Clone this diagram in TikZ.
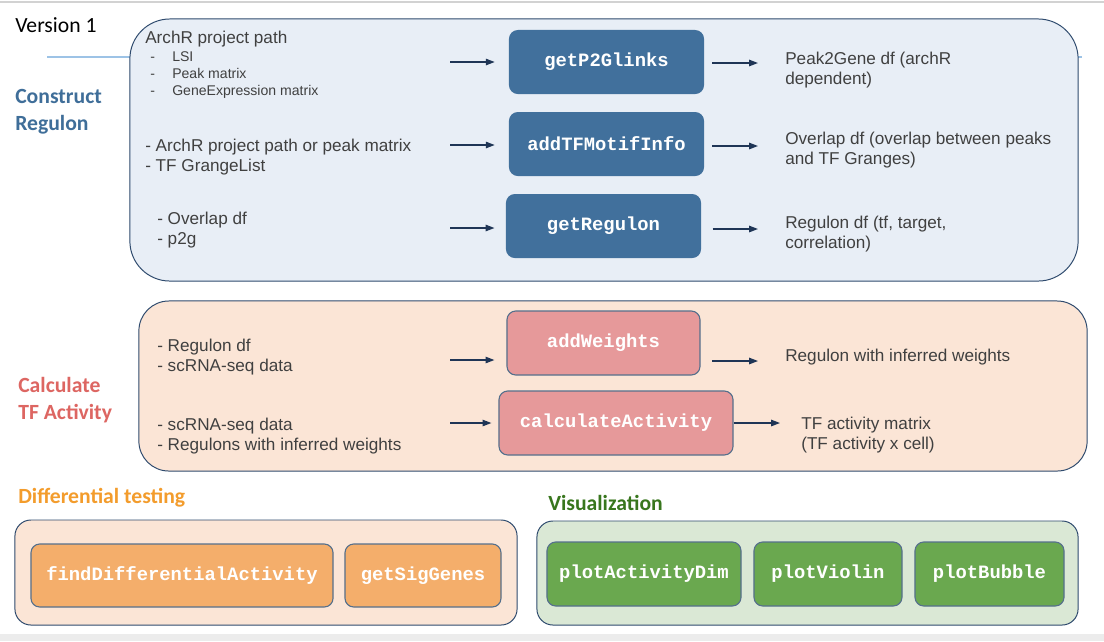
\documentclass[tikz,border=0pt]{standalone}
\usepackage{fontspec}
\setmainfont{Liberation Sans}
\newfontfamily\headfont{Carlito}
\newfontfamily\codefont{Liberation Mono}
\usepackage{xcolor}
\usetikzlibrary{arrows.meta, positioning, calc}

\definecolor{regfill}{HTML}{E8EEF6}
\definecolor{actfill}{HTML}{FBE5D6}
\definecolor{visfill}{HTML}{DAE8D5}
\definecolor{panelline}{HTML}{2F4B6E}
\definecolor{funcline}{HTML}{56708C}
\definecolor{funcblue}{HTML}{41709C}
\definecolor{funcpink}{HTML}{E6999A}
\definecolor{funcorange}{HTML}{F4AE6B}
\definecolor{funcgreen}{HTML}{6AA84F}
\definecolor{txtgray}{HTML}{404040}
\definecolor{arrownavy}{HTML}{1F3556}
\definecolor{headblue}{HTML}{3F6E99}
\definecolor{headred}{HTML}{DD6662}
\definecolor{headorange}{HTML}{F39C2C}
\definecolor{headgreen}{HTML}{38761D}
\definecolor{slideline}{HTML}{9DC3E6}

\begin{document}
\begin{tikzpicture}[
        x=0.025cm, y=-0.025cm,
        panel/.style={rectangle, draw=panelline, line width=0.7pt, inner sep=0pt},
        func/.style={rectangle, rounded corners=0.22cm, text=white, inner sep=0pt,
            minimum height=1.6cm, font=\codefont\bfseries\fontsize{13.4}{16}\selectfont},
        intext/.style={anchor=west, inner sep=0pt, align=left, text=txtgray,
            font=\fontsize{12.2}{14.2}\selectfont},
        smalltext/.style={intext, font=\fontsize{10}{12.1}\selectfont},
        heading/.style={anchor=west, inner sep=0pt, align=left,
            font=\headfont\bfseries\fontsize{15.4}{19.2}\selectfont},
        arrow/.style={line width=0.9pt, draw=arrownavy, -{Triangle[length=0.22cm, width=0.16cm]}}
    ]
        \useasboundingbox (0,0) rectangle (1104,641);
        \fill[white] (0,0) rectangle (1104,641);
        \draw[gray!35, line width=0.8pt] (0,2) -- (1104,2);
        \fill[gray!15] (0,634) rectangle (1104,641);
        \draw[slideline, line width=1pt] (47,57) -- (1082,57);

        % panels
        \node (regpanel) [panel, fill=regfill, rounded corners=1cm, minimum width=23.7cm, minimum height=6.55cm] at (604,150) {};
        \node (actpanel) [panel, fill=actfill, rounded corners=0.75cm, minimum width=23.7cm, minimum height=4.25cm] at (613,386) {};
        \node (diffpanel) [panel, fill=actfill, rounded corners=0.4cm, minimum width=12.55cm, minimum height=2.625cm] at (266,572.5) {};
        \node (vispanel) [panel, fill=visfill, rounded corners=0.4cm, minimum width=13.525cm, minimum height=2.6cm] at (807.5,573) {};

        % headings
        \node (version) [heading, font=\headfont\fontsize{15.4}{18}\selectfont] at (15,25) {Version 1};
        \node (constructhd) [heading, text=headblue] at (15,112) {Construct\\Regulon};
        \node (activityhd) [heading, text=headred] at (18,400) {Calculate\\TF Activity};
        \node (diffhd) [heading, text=headorange] at (18,498) {Differential testing};
        \node (vishd) [heading, text=headgreen] at (548,503) {Visualization};

        % construct regulon
        \node (p2g) [func, fill=funcblue, minimum width=4.875cm] at (606.5,62) {getP2Glinks};
        \node (motif) [func, fill=funcblue, minimum width=4.875cm] at (606.5,144) {addTFMotifInfo};
        \node (regulon) [func, fill=funcblue, minimum width=4.875cm] at (603.5,226) {getRegulon};

        \node (inp2g) [intext] at (145,39) {ArchR project path};
        \node (inp2glist) [smalltext] at (150,75) {\makebox[0.55cm][l]{-}LSI\\\makebox[0.55cm][l]{-}Peak matrix\\\makebox[0.55cm][l]{-}GeneExpression matrix};
        \node (inmotif) [intext] at (145,157) {- ArchR project path or peak matrix\\- TF GrangeList};
        \node (inregulon) [intext] at (157,230) {- Overlap df\\- p2g};
        \node (outp2g) [intext] at (785,70) {Peak2Gene df (archR\\dependent)};
        \node (outmotif) [intext] at (785,150) {Overlap df (overlap between peaks\\and TF Granges)};
        \node (outregulon) [intext] at (785,234) {Regulon df (tf, target,\\correlation)};

        \coordinate (a1) at (450,62);
        \coordinate (a2) at (450,145);
        \coordinate (a3) at (450,228);
        \draw [arrow, shorten >=0.35cm] (a1) -- (a1 -| p2g.west);
        \draw [arrow, shorten >=0.35cm] (a2) -- (a2 -| motif.west);
        \draw [arrow, shorten >=0.28cm] (a3) -- (a3 -| regulon.west);
        \draw [arrow, shorten <=0.2cm, shorten >=0.675cm] ([yshift=-0.025cm]p2g.east) -- ([yshift=-0.025cm]p2g.east -| outp2g.west);
        \draw [arrow, shorten <=0.2cm, shorten >=0.675cm] ([yshift=-0.05cm]motif.east) -- ([yshift=-0.05cm]motif.east -| outmotif.west);
        \draw [arrow, shorten <=0.28cm, shorten >=0.675cm] ([yshift=-0.075cm]regulon.east) -- ([yshift=-0.075cm]regulon.east -| outregulon.west);

        % calculate TF activity
        \node (weights) [func, fill=funcpink, draw=funcline, line width=0.8pt, minimum width=4.825cm] at (603.5,343) {addWeights};
        \node (activity) [func, fill=funcpink, draw=funcline, line width=0.8pt, minimum width=5.85cm] at (616,423) {calculateActivity};

        \node (inweights) [intext] at (157,357) {- Regulon df\\- scRNA-seq data};
        \node (inactivity) [intext] at (157,436) {- scRNA-seq data\\- Regulons with inferred weights};
        \node (outweights) [intext] at (785,357) {Regulon with inferred weights};
        \node (outactivity) [intext] at (801,435) {TF activity matrix\\(TF activity x cell)};

        \coordinate (a4) at (450,360);
        \coordinate (a5) at (450,423);
        \coordinate (w4) at (712,361);
        \draw [arrow, shorten >=0.3cm] (a4) -- (a4 -| weights.west);
        \draw [arrow, shorten >=0.175cm] (a5) -- (a5 -| activity.west);
        \draw [arrow, shorten >=0.675cm] (w4) -- (w4 -| outweights.west);
        \draw [arrow, shorten >=0.525cm] (activity.east) -- (activity.east -| outactivity.west);

        % differential testing
        \node (finddiff) [func, fill=funcorange, draw=funcline, line width=0.8pt, minimum width=7.55cm, minimum height=1.575cm] at (182,575.5) {findDifferentialActivity};
        \node (siggenes) [func, fill=funcorange, draw=funcline, line width=0.8pt, minimum width=3.9cm, minimum height=1.575cm] at (423,575.5) {getSigGenes};

        % visualization
        \node (plotdim) [func, fill=funcgreen, draw=funcline, line width=0.8pt, minimum width=4.85cm] at (644,574) {plotActivityDim};
        \node (plotviolin) [func, fill=funcgreen, draw=funcline, line width=0.8pt, minimum width=3.7cm] at (828,574) {plotViolin};
        \node (plotbubble) [func, fill=funcgreen, draw=funcline, line width=0.8pt, minimum width=3.725cm] at (989.5,574) {plotBubble};
    \end{tikzpicture}
\end{document}
